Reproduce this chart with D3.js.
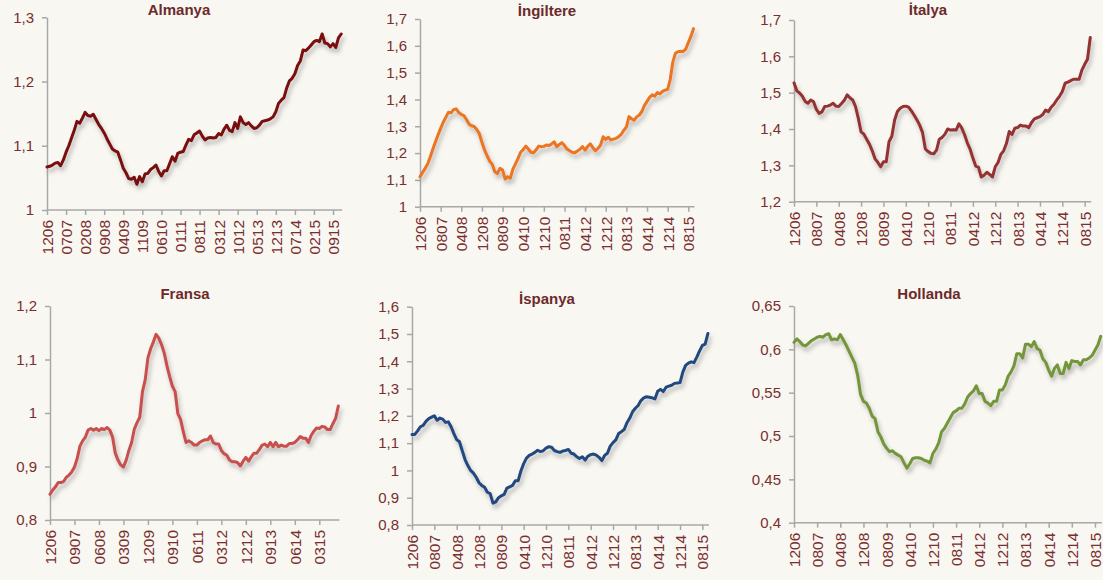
<!DOCTYPE html>
<html>
<head>
<meta charset="utf-8">
<script src="https://cdn.jsdelivr.net/npm/d3@7"></script>
<style>
  html, body { margin: 0; padding: 0; background: #f8f7f2; }
  svg { display: block; }
  text { font-family: "Liberation Sans", Arial, sans-serif; }
</style>
</head>
<body>
<svg id="chart" width="1103" height="580"></svg>
<script>
// ---------- DATA (monthly, first month = 12/2006) ----------
const titles = ["Almanya", "İngiltere", "İtalya", "Fransa", "İspanya", "Hollanda"];

const labelsAlmanya = ["1206","0707","0208","0908","0409","1109","0610","0111","0811","0312","1012","0513","1213","0714","0215","0915"];
const labelsStd = ["1206","0807","0408","1208","0809","0410","1210","0811","0412","1212","0813","0414","1214","0815"];
const labelsFransa = ["1206","0907","0608","0309","1209","0910","0611","0312","1212","0913","0614","0315"];

const yTicksAlmanya = [1, 1.1, 1.2, 1.3];
const yTicksIngiltere = [1, 1.1, 1.2, 1.3, 1.4, 1.5, 1.6, 1.7];
const yTicksItalya = [1.2, 1.3, 1.4, 1.5, 1.6, 1.7];
const yTicksFransa = [0.8, 0.9, 1, 1.1, 1.2];
const yTicksIspanya = [0.8, 0.9, 1, 1.1, 1.2, 1.3, 1.4, 1.5, 1.6];
const yTicksHollanda = [0.4, 0.45, 0.5, 0.55, 0.6, 0.65];

const almanya = [1.067,1.068,1.070,1.073,1.074,1.069,1.078,1.090,1.100,1.112,1.124,1.138,1.135,1.143,1.152,1.147,1.146,1.149,1.141,1.133,
1.127,1.120,1.111,1.103,1.095,1.092,1.090,1.078,1.065,1.058,1.049,1.048,1.051,1.040,1.052,1.044,1.056,1.057,1.063,1.066,
1.070,1.060,1.053,1.061,1.061,1.072,1.083,1.076,1.088,1.090,1.091,1.101,1.110,1.108,1.117,1.120,1.123,1.115,1.109,1.112,
1.113,1.112,1.113,1.119,1.117,1.126,1.132,1.124,1.122,1.136,1.127,1.145,1.136,1.133,1.136,1.131,1.127,1.128,1.132,1.138,
1.139,1.140,1.142,1.145,1.153,1.166,1.171,1.175,1.190,1.201,1.205,1.212,1.225,1.232,1.249,1.248,1.252,1.257,1.262,1.264,
1.262,1.274,1.260,1.259,1.254,1.259,1.253,1.268,1.274];

const ingiltere = [1.112,1.128,1.143,1.160,1.186,1.215,1.242,1.268,1.292,1.315,1.333,1.352,1.350,1.362,1.365,1.352,1.344,1.340,1.325,1.308,
1.302,1.299,1.288,1.272,1.240,1.212,1.190,1.170,1.158,1.130,1.124,1.143,1.137,1.103,1.112,1.106,1.140,1.160,1.180,1.203,
1.213,1.226,1.215,1.203,1.201,1.212,1.226,1.224,1.225,1.230,1.228,1.234,1.242,1.224,1.232,1.239,1.228,1.215,1.209,1.203,
1.201,1.208,1.214,1.224,1.211,1.225,1.234,1.220,1.209,1.218,1.230,1.261,1.251,1.259,1.249,1.252,1.255,1.261,1.270,1.285,
1.298,1.336,1.328,1.323,1.335,1.342,1.355,1.378,1.393,1.408,1.417,1.412,1.426,1.421,1.430,1.435,1.438,1.475,1.540,1.572,
1.578,1.580,1.579,1.588,1.612,1.635,1.664];

const italya = [1.527,1.505,1.499,1.490,1.476,1.471,1.480,1.475,1.454,1.443,1.447,1.462,1.463,1.466,1.471,1.463,1.462,1.470,1.479,1.494,
1.486,1.480,1.462,1.430,1.392,1.386,1.372,1.358,1.340,1.318,1.308,1.296,1.310,1.310,1.365,1.380,1.425,1.448,1.457,1.462,
1.463,1.460,1.450,1.438,1.425,1.410,1.390,1.345,1.338,1.333,1.332,1.342,1.372,1.377,1.386,1.400,1.397,1.398,1.397,1.414,
1.403,1.385,1.362,1.345,1.320,1.298,1.295,1.268,1.273,1.281,1.275,1.268,1.296,1.308,1.330,1.340,1.360,1.393,1.385,1.402,
1.404,1.411,1.408,1.408,1.404,1.418,1.428,1.431,1.434,1.440,1.452,1.448,1.460,1.468,1.480,1.490,1.503,1.526,1.529,1.533,
1.537,1.537,1.537,1.562,1.578,1.592,1.652];

const fransa = [0.848,0.856,0.862,0.870,0.870,0.872,0.880,0.884,0.890,0.899,0.915,0.938,0.948,0.955,0.968,0.971,0.968,0.971,0.967,0.971,
0.969,0.973,0.968,0.955,0.925,0.912,0.903,0.899,0.912,0.930,0.945,0.970,0.982,0.992,1.040,1.062,1.103,1.120,1.133,1.147,
1.140,1.128,1.112,1.088,1.068,1.050,1.040,0.999,0.988,0.965,0.945,0.948,0.945,0.940,0.940,0.945,0.948,0.950,0.950,0.957,
0.945,0.942,0.942,0.930,0.924,0.921,0.912,0.909,0.909,0.907,0.901,0.910,0.917,0.910,0.918,0.925,0.925,0.932,0.940,0.942,
0.937,0.945,0.937,0.945,0.937,0.940,0.938,0.938,0.943,0.943,0.945,0.950,0.956,0.953,0.953,0.945,0.958,0.966,0.972,0.971,
0.975,0.974,0.969,0.969,0.980,0.990,1.013];

const ispanya = [1.132,1.132,1.145,1.160,1.165,1.180,1.190,1.195,1.200,1.184,1.192,1.188,1.176,1.178,1.160,1.135,1.113,1.105,1.072,1.040,
1.018,1.000,0.990,0.975,0.955,0.945,0.938,0.920,0.915,0.880,0.885,0.900,0.907,0.912,0.935,0.940,0.945,0.962,0.962,0.998,
1.025,1.045,1.055,1.060,1.066,1.074,1.069,1.072,1.082,1.087,1.085,1.073,1.069,1.066,1.071,1.073,1.077,1.063,1.060,1.050,
1.044,1.050,1.038,1.052,1.058,1.060,1.056,1.048,1.036,1.055,1.063,1.089,1.102,1.112,1.135,1.142,1.150,1.175,1.192,1.215,
1.228,1.238,1.256,1.266,1.270,1.268,1.266,1.262,1.290,1.297,1.289,1.305,1.309,1.312,1.319,1.320,1.322,1.360,1.385,1.393,
1.398,1.395,1.415,1.438,1.458,1.463,1.502];

const hollanda = [0.608,0.612,0.609,0.605,0.604,0.607,0.610,0.612,0.614,0.615,0.614,0.617,0.618,0.611,0.612,0.611,0.617,0.611,0.605,0.598,
0.591,0.584,0.570,0.548,0.540,0.538,0.532,0.523,0.520,0.505,0.499,0.491,0.486,0.482,0.483,0.480,0.478,0.476,0.469,0.463,
0.468,0.474,0.475,0.475,0.474,0.472,0.471,0.469,0.480,0.485,0.492,0.505,0.509,0.515,0.521,0.527,0.529,0.532,0.532,0.537,
0.545,0.549,0.552,0.558,0.549,0.549,0.540,0.538,0.535,0.540,0.540,0.553,0.553,0.559,0.569,0.574,0.581,0.595,0.595,0.590,
0.606,0.606,0.603,0.609,0.601,0.599,0.589,0.585,0.576,0.569,0.578,0.582,0.572,0.572,0.585,0.578,0.587,0.586,0.586,0.582,
0.588,0.588,0.590,0.593,0.599,0.605,0.615];

// ---------- LAYOUT / STYLE ----------
const panels = [
  { title: titles[0], values: almanya,   labels: labelsAlmanya, yTicks: yTicksAlmanya,   color: "#7a0a0a",
    x0: 47,  step: 2.724, yTop: 17.3, yBot: 210,   tx: 179, ty: 15 },
  { title: titles[1], values: ingiltere, labels: labelsStd,     yTicks: yTicksIngiltere, color: "#ec7421",
    x0: 420, step: 2.58,  yTop: 19,   yBot: 206.7, tx: 547, ty: 16 },
  { title: titles[2], values: italya,    labels: labelsStd,     yTicks: yTicksItalya,    color: "#953031",
    x0: 794, step: 2.795, yTop: 20,   yBot: 201.7, tx: 928, ty: 15 },
  { title: titles[3], values: fransa,    labels: labelsFransa,  yTicks: yTicksFransa,    color: "#c94f4e",
    x0: 50,  step: 2.72,  yTop: 306,  yBot: 520,   tx: 185, ty: 299 },
  { title: titles[4], values: ispanya,   labels: labelsStd,     yTicks: yTicksIspanya,   color: "#22487f",
    x0: 412, step: 2.792, yTop: 306.7, yBot: 525,  tx: 547, ty: 304 },
  { title: titles[5], values: hollanda,  labels: labelsStd,     yTicks: yTicksHollanda,  color: "#739639",
    x0: 794, step: 2.894, yTop: 306,  yBot: 522.7, tx: 929, ty: 299 }
];

const textColor = "#7a2e2e";
const titleColor = "#6c2a2a";
const axisColor = "#a8a8a8";

const svg = d3.select("#chart");
svg.append("rect").attr("width", 1103).attr("height", 580).attr("fill", "#f8f7f2");

const defs = svg.append("defs");
const f = defs.append("filter").attr("id", "shadow")
  .attr("x", "-10%").attr("y", "-10%").attr("width", "120%").attr("height", "130%");
f.append("feDropShadow").attr("dx", 2).attr("dy", 4).attr("stdDeviation", 2)
  .attr("flood-color", "#555").attr("flood-opacity", 0.4);

const fmt = v => String(+v.toFixed(2)).replace(".", ",");
const labelIndex = s => (+s.slice(2) - 6) * 12 + (+s.slice(0, 2) - 12);

panels.forEach(p => {
  const n = p.values.length;
  const x = d3.scaleLinear().domain([0, n - 1]).range([p.x0, p.x0 + (n - 1) * p.step]);
  const yExt = d3.extent(p.yTicks);
  const y = d3.scaleLinear().domain(yExt).range([p.yBot, p.yTop]);
  const g = svg.append("g");

  // title
  g.append("text").attr("x", p.tx).attr("y", p.ty).attr("text-anchor", "middle")
    .attr("font-size", "15px").attr("font-weight", "bold").attr("fill", titleColor)
    .text(p.title);

  // y axis
  const ya = g.append("g").attr("transform", `translate(${p.x0},0)`)
    .call(d3.axisLeft(y).tickValues(p.yTicks).tickFormat(fmt).tickSize(5).tickSizeOuter(0).tickPadding(8));
  ya.select(".domain").attr("stroke", axisColor).attr("stroke-width", 1.5);
  ya.selectAll(".tick line").attr("stroke", axisColor).attr("stroke-width", 1.5);
  ya.selectAll(".tick text").attr("fill", textColor).attr("font-size", "15px")
    .attr("font-family", '"Liberation Sans", Arial, sans-serif');

  // x axis
  const xa = g.append("g").attr("transform", `translate(0,${p.yBot})`)
    .call(d3.axisBottom(x).tickValues(p.labels.map(labelIndex))
      .tickFormat((d, i) => p.labels[i]).tickSize(5).tickSizeOuter(0).tickPadding(0));
  xa.select(".domain").attr("stroke", axisColor).attr("stroke-width", 1.5)
    .attr("d", `M${p.x0},0H${x.range()[1] + 1}`);
  xa.selectAll(".tick line").attr("stroke", axisColor).attr("stroke-width", 1.5);
  xa.selectAll(".tick text").attr("fill", textColor).attr("font-size", "15.5px")
    .attr("font-family", '"Liberation Sans", Arial, sans-serif')
    .attr("text-anchor", "end").attr("dy", "0.35em")
    .attr("transform", "translate(0,10) rotate(-90)").attr("x", 0).attr("y", 0);

  // line
  const line = d3.line().x((d, i) => x(i)).y(d => y(d));
  g.append("path").datum(p.values).attr("d", line)
    .attr("fill", "none").attr("stroke", p.color).attr("stroke-width", 3)
    .attr("stroke-linejoin", "round").attr("stroke-linecap", "round")
    .attr("filter", "url(#shadow)");
});
</script>
</body>
</html>
